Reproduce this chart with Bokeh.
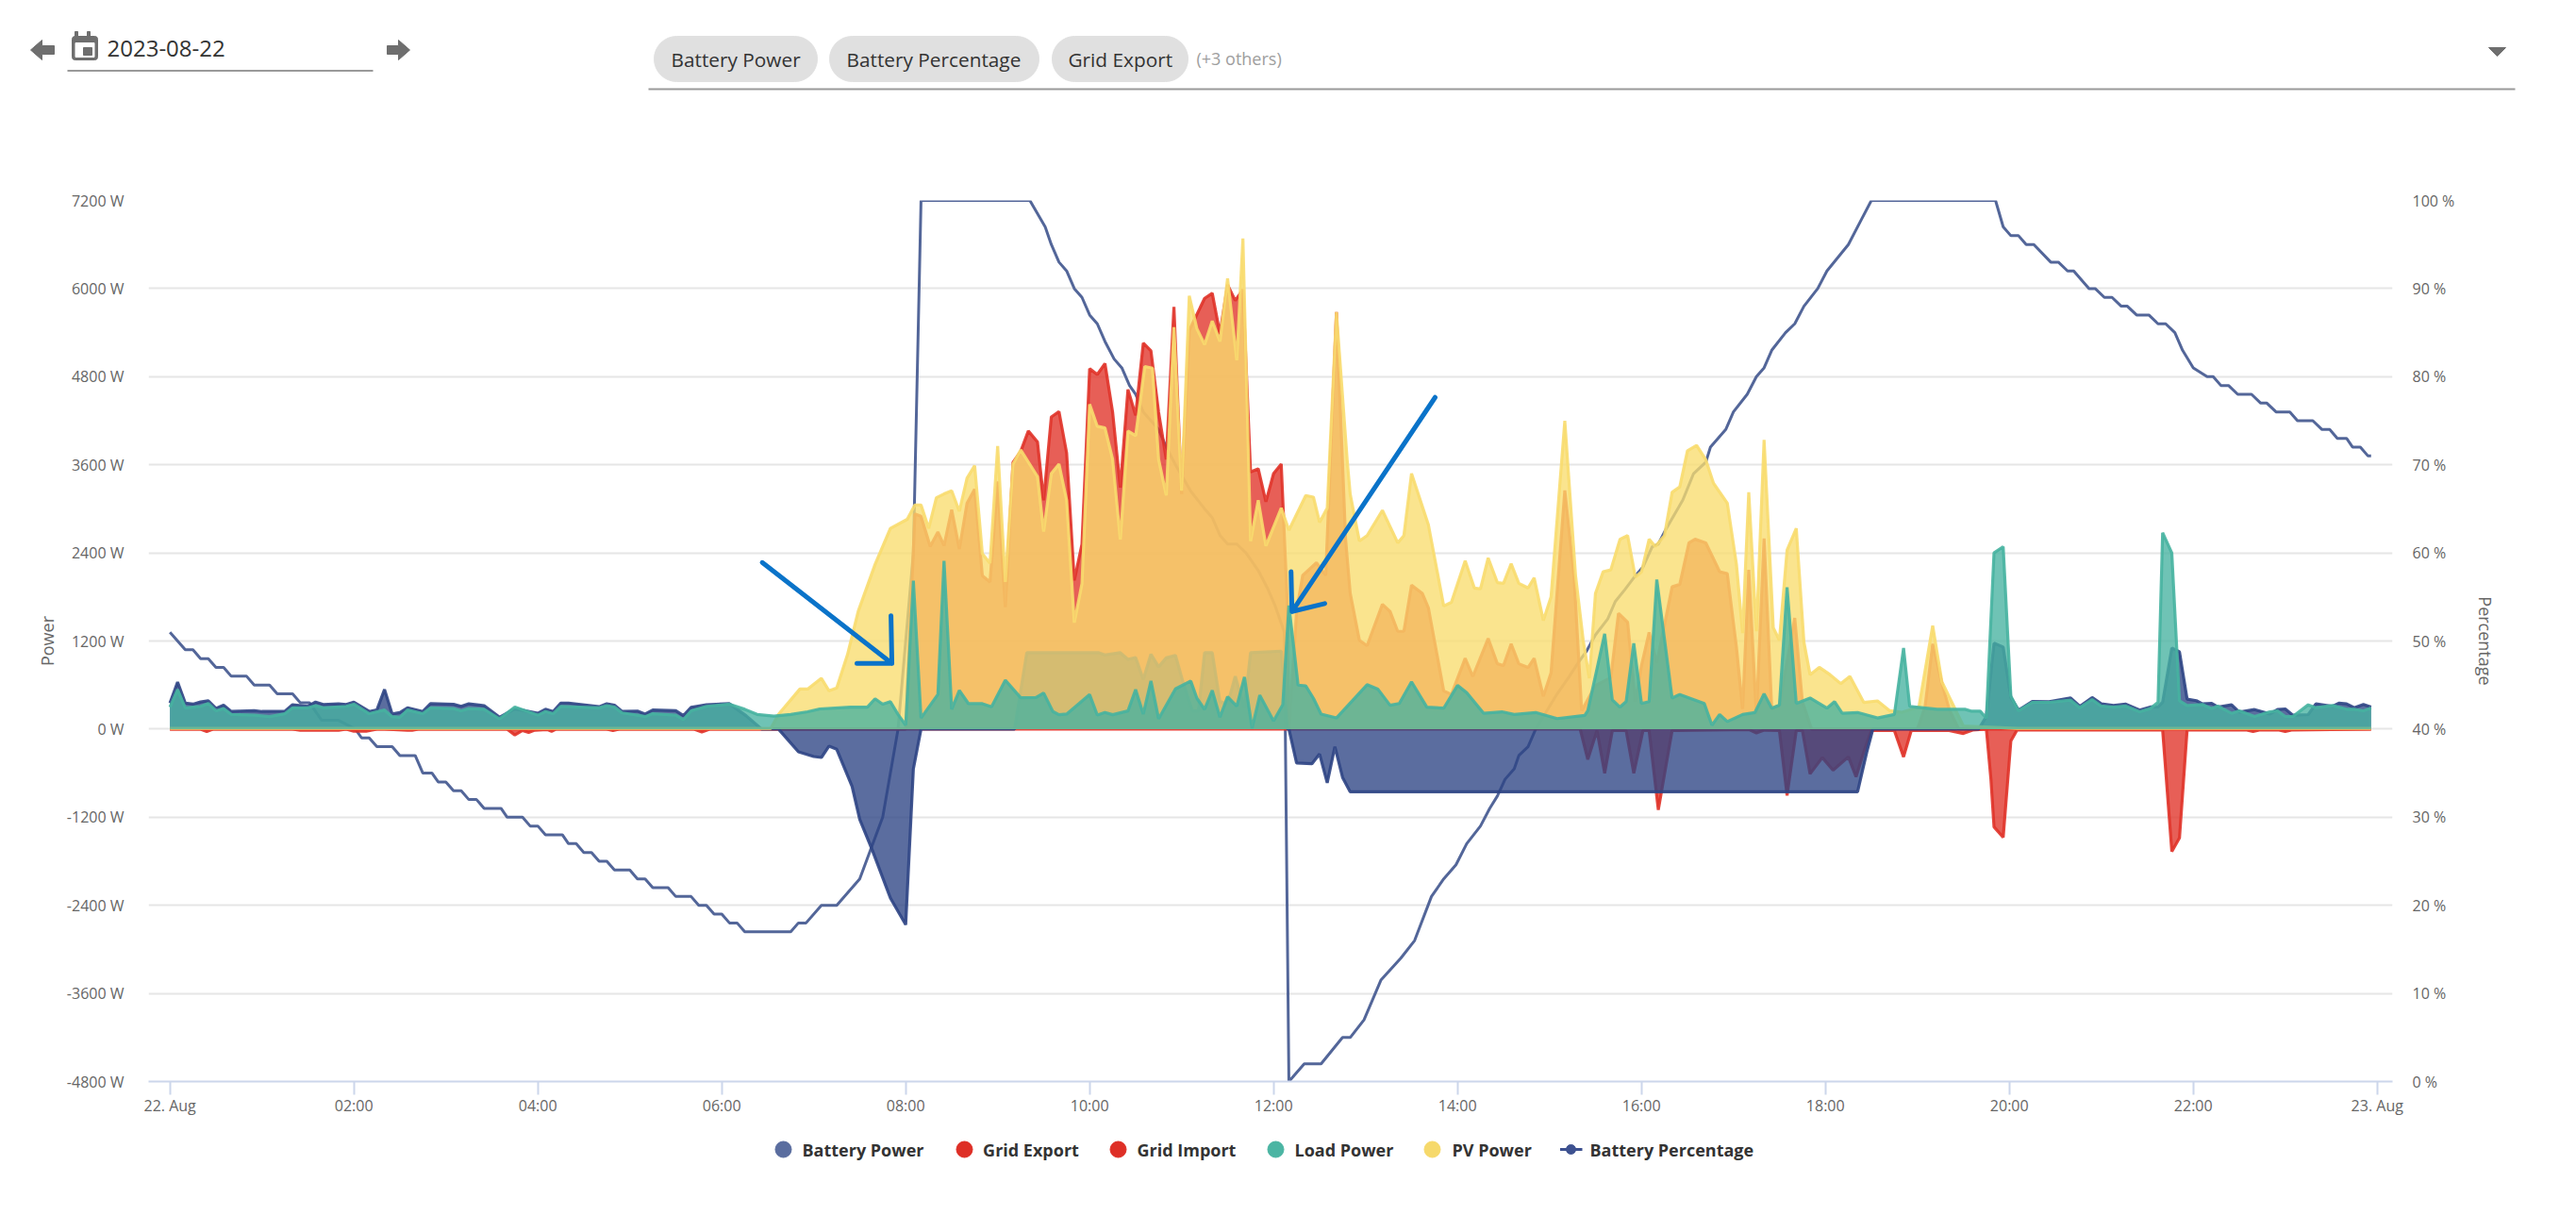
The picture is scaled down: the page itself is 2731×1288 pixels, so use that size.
from bokeh.embed import file_html
from bokeh.resources import INLINE
from bokeh.plotting import figure
from bokeh.models import FixedTicker, LinearAxis, Range1d, Grid
from bokeh.core.properties import value

tick_min = [0, 120, 240, 360, 480, 600, 720, 840, 960, 1080, 1200, 1320, 1440]
tick_lab = ["22. Aug", "02:00", "04:00", "06:00", "08:00", "10:00", "12:00", "14:00", "16:00", "18:00", "20:00", "22:00", "23. Aug"]
power_ticks = [7200, 6000, 4800, 3600, 2400, 1200, 0, -1200, -2400, -3600, -4800]
pct_ticks = [100, 90, 80, 70, 60, 50, 40, 30, 20, 10, 0]

batt_t = [0,5,10,15,20,25,30,35,40,45,55,60,75,80,90,95,100,110,115,120,130,135,140,145,150,155,165,170,185,190,195,205,215,225,240,245,250,255,260,280,285,290,295,305,310,315,330,335,340,350,365,370,376,386,397,410,420,425,430,435,445,450,458,470,480,485,490,551,559,606,610,620,625,630,635,640,645,650,656,661,667,671,675,680,685,690,695,701,705,725,729,730,735,745,750,755,760,765,770,1101,1107,1111,1180,1185,1190,1196,1201,1206,1215,1226,1240,1246,1254,1260,1268,1276,1285,1292,1297,1300,1306,1311,1316,1322,1326,1332,1336,1345,1350,1360,1370,1375,1380,1385,1395,1400,1411,1415,1420,1425,1431,1436]
batt_v = [355,642,355,340,370,385,282,325,240,245,250,240,244,333,310,368,335,345,335,368,240,260,540,205,225,290,240,346,338,310,345,318,162,277,215,270,240,355,355,305,345,325,240,245,205,260,250,183,295,333,346,270,180,0,0,-310,-374,-387,-232,-275,-781,-1230,-1637,-2301,-2665,-545,0,0,1040,1040,1010,1040,950,975,676,1019,848,970,1005,633,248,248,1040,1040,376,340,719,290,1040,1062,0,0,-462,-472,-340,-733,-241,-659,-855,-855,-315,0,0,172,1170,1118,430,258,378,374,425,310,430,344,322,340,258,301,301,365,1105,1053,408,387,344,352,301,331,232,266,206,267,275,189,198,344,310,353,344,292,335,301,301]

export_t = [0,480,486,490,496,501,505,510,515,520,525,530,535,540,545,550,555,560,566,570,575,580,585,590,595,600,605,610,615,620,625,630,635,640,645,650,655,660,665,675,680,685,690,695,700,705,710,715,720,725,729,730,735,739,748,754,761,767,770,776,781,791,796,801,805,810,817,821,831,836,845,850,860,866,870,875,880,886,890,896,901,910,916,921,930,940,945,951,956,960,965,970,980,985,991,995,1002,1011,1016,1022,1026,1030,1035,1040,1045,1050,1060,1065,1071,1140,1145,1150,1156,1161,1167,1436]
export_v = [0,0,2930,2900,2488,2685,2500,2989,2453,3075,3267,2090,2004,3374,1661,3631,3781,4060,3910,3117,4252,4325,3760,2025,2518,4908,4830,4980,4317,3289,4625,4274,5259,5152,4317,3674,5751,3203,5430,5867,5936,5387,6051,5837,5987,3503,3546,3096,3481,3610,1700,0,1603,2095,2267,2095,5680,2586,1850,1210,1136,1700,1603,1332,1332,1962,1850,1652,521,472,964,718,1234,890,865,1160,890,840,964,447,767,3250,2095,250,595,700,1578,1455,374,865,1318,900,1937,1972,2537,2586,2537,2144,2119,1111,275,2168,200,2596,275,330,1514,374,0,0,300,1161,623,258,0,0]

import_t = [0,20,24,28,80,85,110,115,120,128,135,140,155,158,162,220,225,230,234,238,246,249,252,285,289,293,342,347,352,480,920,925,931,936,941,950,955,961,965,971,980,1030,1035,1040,1050,1055,1061,1065,1070,1078,1085,1095,1100,1105,1110,1125,1131,1136,1160,1170,1176,1185,1188,1190,1196,1201,1205,1300,1306,1311,1316,1355,1359,1363,1376,1380,1384,1436]
import_v = [0,0,-32,0,0,-15,-15,0,-30,-30,0,0,-15,-15,0,0,-80,-20,-45,-15,-5,-30,0,0,-20,0,0,-40,0,0,0,-413,-20,-600,-20,-20,-600,-20,-20,-1101,-20,-5,-54,-15,-20,-905,-20,-20,-610,-388,-560,-379,-649,-315,-20,-20,-379,-20,-15,-60,-13,0,-688,-1333,-1475,-163,-13,-13,-1668,-1483,-13,-13,-34,-13,-13,-34,-13,0]

load_t = [0,5,10,15,20,25,30,35,40,55,65,75,80,90,95,100,115,120,130,140,145,150,155,165,170,185,190,195,205,215,225,240,245,250,255,280,285,290,295,305,310,315,330,335,340,350,365,375,383,394,405,416,424,444,455,460,465,470,475,480,485,490,501,505,510,515,521,530,536,545,555,565,570,576,580,585,600,605,610,615,625,630,635,640,645,656,666,670,675,680,685,690,696,701,706,711,720,726,730,736,741,746,751,761,781,788,796,802,810,820,831,840,846,857,869,877,891,905,923,925,936,941,946,950,955,960,965,970,980,985,1001,1006,1011,1016,1026,1034,1040,1045,1050,1055,1061,1070,1081,1086,1091,1101,1114,1125,1131,1135,1153,1171,1175,1181,1185,1190,1196,1201,1206,1215,1226,1240,1246,1254,1260,1268,1276,1285,1292,1297,1300,1306,1311,1316,1326,1332,1336,1345,1350,1360,1370,1375,1380,1385,1395,1400,1411,1420,1425,1431,1436]
load_v = [300,540,290,300,310,350,250,280,200,190,170,210,290,290,320,290,310,340,210,260,170,160,260,210,290,280,250,280,270,140,300,190,240,210,310,290,320,300,220,190,170,210,190,130,250,310,340,270,200,177,200,236,275,300,300,413,340,374,200,54,2020,152,472,2290,269,526,346,346,303,667,428,432,492,240,196,205,470,192,226,196,248,539,205,655,141,548,655,419,269,526,162,441,312,710,12,462,111,333,1683,599,590,419,205,152,605,546,325,349,644,300,285,595,497,216,236,200,226,143,187,250,1298,398,300,374,1170,349,374,2036,423,472,349,54,200,103,200,226,482,285,325,1932,349,423,285,374,216,226,152,200,1105,310,270,270,245,245,150,2400,2485,450,250,365,365,395,292,404,314,301,314,236,280,365,2675,2400,387,322,335,280,314,215,249,172,236,249,172,172,331,292,322,271,271,249,288,279,279]

pv_t = [0,392,397,411,416,425,430,435,442,449,460,470,481,486,490,495,500,505,510,515,520,525,530,535,540,545,550,555,566,570,575,580,585,590,595,600,605,610,615,620,625,630,636,641,645,650,655,660,665,670,675,680,685,690,696,700,705,710,715,725,730,741,746,750,755,761,768,770,776,781,791,801,805,810,821,831,836,845,851,855,860,866,870,875,880,886,890,896,901,910,917,922,926,930,935,940,946,951,956,960,965,969,975,980,985,990,996,1002,1007,1016,1022,1026,1030,1035,1040,1046,1050,1055,1061,1066,1070,1076,1083,1090,1096,1105,1114,1122,1130,1141,1150,1156,1164,1170,1205,1436]
pv_v = [10,10,200,546,546,693,521,560,1013,1603,2242,2734,2857,3053,3053,2734,3152,3203,3246,2967,3417,3588,2389,2261,3854,2004,3610,3803,3439,2689,3481,3610,3117,1450,1982,4424,4124,4102,3674,2582,4060,3995,4938,4916,3674,3182,5473,3246,5901,5452,5237,5559,5280,6137,5023,6681,2560,3117,2496,3010,2710,3182,3160,2817,3010,5680,3668,3200,2562,2636,2980,2537,2636,3481,2783,1677,1726,2291,1922,1910,2331,1996,1986,2252,1986,1923,2060,1480,1800,4199,2095,1210,693,1849,2144,2168,2586,2636,2070,2140,2586,2488,2636,3225,3299,3791,3865,3668,3349,3078,2242,1308,3225,1332,3938,1382,1210,2439,2734,1185,742,841,742,620,718,364,384,250,230,300,1410,645,300,43,10,10]

pct_t = [0,10,15,20,25,30,35,40,50,55,65,70,80,85,91,99,110,121,125,130,135,145,150,160,165,171,175,180,185,190,195,200,205,216,220,230,235,240,245,256,260,265,270,275,280,285,290,300,305,310,315,325,330,340,345,350,355,360,365,370,375,405,410,415,425,435,450,465,475,485,490,561,571,575,580,585,590,595,600,605,610,616,621,626,630,635,640,645,650,656,661,666,675,680,685,690,696,702,710,716,721,725,727,730,740,751,765,770,779,790,803,812,823,831,839,846,855,861,866,871,877,880,886,891,898,905,913,919,924,930,938,943,949,956,961,967,971,976,983,987,994,1002,1005,1015,1020,1029,1035,1040,1045,1054,1060,1066,1075,1081,1095,1104,1110,1191,1196,1201,1206,1211,1216,1227,1232,1238,1242,1252,1256,1262,1267,1273,1277,1283,1291,1297,1302,1308,1313,1320,1329,1333,1338,1343,1349,1358,1364,1368,1374,1383,1388,1398,1404,1409,1414,1420,1424,1429,1434,1436]
pct_v = [51,49,49,48,48,47,47,46,46,45,45,44,44,43,43,41,41,40,39,39,38,38,37,37,35,35,34,34,33,33,32,32,31,31,30,30,29,29,28,28,27,27,26,26,25,25,24,24,23,23,22,22,21,21,20,20,19,19,18,18,17,17,18,18,20,20,23,30,40,60,100,100,97,95,93,92,90,89,87,86,84,82,81,79,78,76,75,74,72,70,68.5,67,65,64,62,61,61,60,58,56,54,52,51,0,2,2,5,5,7,11.5,14,16,21,23,24.6,27,29,31,32.4,34.3,35.5,37,38,40,42,44,46,47.6,48.8,50.7,52.5,54.5,55.8,57.4,58.4,60.7,61,62.7,64.8,66,69,70.3,72,74,76,78,80,81,83,85,86,88,90,92,95,98,100,100,97,96,96,95,95,93,93,92,92,90,90,89,89,88,88,87,87,86,86,85,83,81,80,80,79,79,78,78,77,77,76,76,75,75,74,74,73,73,72,72,71,71]

arrow_a_t = [386.4, 471, 470.4, 471, 448.2]
arrow_a_v = [2269, 894, 1543, 894, 894]
arrow_b_t = [825.4, 732, 731.4, 732, 753.4]
arrow_b_v = [4518, 1601, 2145, 1601, 1710]

legend_names = ["Battery Power", "Grid Export", "Grid Import", "Load Power", "PV Power", "Battery Percentage"]
legend_colors = ["#5a6d9f", "#de2f26", "#de2f26", "#4bb5a3", "#f6d96b", "#3d5190"]

FONT = value("Open Sans")
BLUE, RED, TEAL, YELLOW = "#2d4484", "#e03228", "#46b2a0", "#f8dc6e"

# ---------- header ----------
hdr = figure(width=2715, height=118, x_range=Range1d(0, 2715), y_range=Range1d(118, 0),
             output_backend="svg", toolbar_location=None, min_border=0,
             x_axis_type=None, y_axis_type=None, outline_line_color=None)
hdr.grid.visible = False
GREY = "#6e6e6e"
hdr.patch([32, 44, 44, 57, 57, 44, 44], [52.5, 42, 48, 48, 57, 57, 63], color=GREY)
hdr.patch([434, 422, 422, 410, 410, 422, 422], [52.5, 42, 48, 48, 57, 57, 63], color=GREY)
hdr.quad(left=[76], right=[103], top=[38], bottom=[63], color=GREY, border_radius=3)
hdr.quad(left=[79, 92], right=[82, 95], top=[33, 33], bottom=[40, 40], color=GREY)
hdr.quad(left=[79.5], right=[99.5], top=[45], bottom=[60], color="white")
hdr.quad(left=[88], right=[97], top=[50], bottom=[58], color=GREY)
hdr.segment([71, 687], [74.5, 94], [395, 2666], [74.5, 94], line_color="#9a9a9a", line_width=2)
hdr.quad(left=[693, 879, 1115], right=[866, 1101, 1259], top=[38, 38, 38], bottom=[86, 86, 86],
         color="#e0e0e0", border_radius=24)
hdr.text([113], [51], text=["2023-08-22"], text_font=FONT, text_font_size="24px", text_color="#333333",
         text_baseline="middle")
hdr.text([711, 897, 1132], [62, 62, 62], text=["Battery Power", "Battery Percentage", "Grid Export"],
         text_font=FONT, text_font_size="20.8px", text_color="#333333", text_baseline="middle")
hdr.text([1268], [61], text=["(+3 others)"], text_font=FONT, text_font_size="18px", text_color="#9e9e9e",
         text_baseline="middle")
hdr.patch([2638, 2656, 2647], [50, 50, 59], color=GREY)

# ---------- main chart ----------
p = figure(width=2715, height=1074, x_range=Range1d(-13.95, 1450), y_range=Range1d(-4800, 7200),
           output_backend="svg", toolbar_location=None, outline_line_color=None, x_axis_type=None, y_axis_type=None,
           min_border_left=157, min_border_right=179, min_border_top=94, min_border_bottom=46)
p.extra_y_ranges = {"pct": Range1d(0, 100)}

xa = LinearAxis(ticker=FixedTicker(ticks=tick_min), major_label_overrides=dict(zip(tick_min, tick_lab)))
xa.axis_line_color = "#ccd6eb"
xa.axis_line_width = 2
xa.major_tick_line_color = "#ccd6eb"
xa.major_tick_line_width = 2
xa.major_tick_out = 14
xa.major_tick_in = 0
xa.minor_tick_line_color = None
xa.major_label_standoff = 0
xa.major_label_text_font = "Open Sans"
xa.major_label_text_font_size = "16px"
xa.major_label_text_color = "#666666"
p.add_layout(xa, "below")

ya = LinearAxis(ticker=FixedTicker(ticks=power_ticks),
                major_label_overrides={t: f"{t} W" for t in power_ticks}, axis_label="Power")
yb = LinearAxis(y_range_name="pct", ticker=FixedTicker(ticks=pct_ticks),
                major_label_overrides={t: f"{t} %" for t in pct_ticks}, axis_label="Percentage")
for a, off in ((ya, 20), (yb, 15)):
    a.axis_line_color = None
    a.major_tick_line_color = None
    a.minor_tick_line_color = None
    a.major_label_standoff = off
    a.major_label_text_font = "Open Sans"
    a.major_label_text_font_size = "16px"
    a.major_label_text_color = "#666666"
    a.axis_label_text_font = "Open Sans"
    a.axis_label_text_font_size = "18px"
    a.axis_label_text_font_style = "normal"
    a.axis_label_text_color = "#666666"
ya.axis_label_standoff = 6
yb.axis_label_standoff = 18
p.add_layout(ya, "left")
p.add_layout(yb, "right")

g = Grid(dimension=1, ticker=FixedTicker(ticks=power_ticks), grid_line_color="#e6e6e6", grid_line_width=2)
p.add_layout(g)

p.line(pct_t, pct_v, y_range_name="pct", line_color="#4a5e94", line_width=3, line_alpha=0.95)

series = [(export_t, export_v, RED), (import_t, import_v, RED), (batt_t, batt_v, BLUE),
          (pv_t, pv_v, YELLOW), (load_t, load_v, TEAL)]
for ts, vs, col in series:
    p.varea(x=ts, y1=[0] * len(ts), y2=vs, fill_color=col, fill_alpha=0.78)
    p.line(ts, vs, line_color=col, line_width=3.2, line_alpha=0.9)

p.line(arrow_a_t, arrow_a_v, line_color="#0a73c9", line_width=5, line_cap="round", line_join="round")
p.line(arrow_b_t, arrow_b_v, line_color="#0a73c9", line_width=5, line_cap="round", line_join="round")

# ---------- legend ----------
ftr = figure(width=2715, height=88, x_range=Range1d(0, 2715), y_range=Range1d(1280, 1192),
             output_backend="svg", toolbar_location=None, min_border=0,
             x_axis_type=None, y_axis_type=None, outline_line_color=None)
ftr.grid.visible = False
ftr.scatter([830, 1022, 1185, 1352, 1518], [1218] * 5, size=17, marker="circle", color=legend_colors[:5])
ftr.line([1653.5, 1677], [1218, 1218], line_color="#3d5190", line_width=3)
ftr.scatter([1665], [1218], size=10, marker="circle", color=legend_colors[5])
ftr.text([850, 1041.6, 1205, 1372, 1539, 1685], [1218] * 6, text=legend_names, text_font=FONT,
         text_font_style="bold", text_font_size="18px", text_color="#333333", text_baseline="middle")

open("out.html", "w").write(file_html([hdr, p, ftr], INLINE))
